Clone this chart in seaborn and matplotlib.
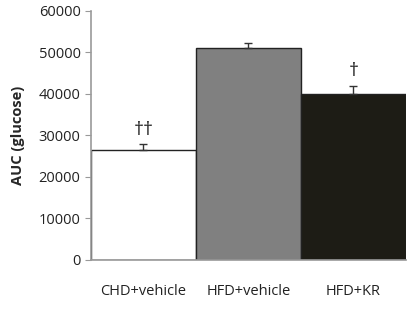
import matplotlib
matplotlib.use("Agg")
import matplotlib.pyplot as plt
import seaborn as sns
import pandas as pd

groups = ["CHD+vehicle", "HFD+vehicle", "HFD+KR"]
auc = [26500, 51000, 40000]
sem = [1400, 1400, 2000]
marks = ["††", "", "†"]
bar_colors = ["#ffffff", "#808080", "#1f1d13"]

sns.set_style("white")
plt.rcParams["font.family"] = ["Open Sans", "DejaVu Sans"]

df = pd.DataFrame({"group": groups, "auc": auc})

fig, ax = plt.subplots(figsize=(4.10, 3.14), dpi=100)
fig.subplots_adjust(left=0.222, right=0.99, bottom=0.172, top=0.965)

sns.barplot(data=df, x="group", y="auc", hue="group", palette=bar_colors,
            width=1.0, edgecolor="#222222", linewidth=1.0, legend=False, ax=ax)

# upper error bars only
ax.errorbar(range(len(groups)), auc, yerr=[[0] * len(sem), sem], fmt="none",
            ecolor="#333333", elinewidth=1.0, capsize=3, capthick=1.0)

for i, m in enumerate(marks):
    if m:
        ax.text(i, auc[i] + sem[i] + 1300, m, ha="center", va="bottom",
                fontsize=14, color="#222222")

ax.set_ylim(0, 60000)
ax.set_xlim(-0.5, 2.5)
ax.set_yticks(range(0, 60001, 10000))
ax.tick_params(axis="y", labelsize=10.5, left=True, length=4, color="#999999",
               labelcolor="#222222")
ax.tick_params(axis="x", labelsize=10.5, bottom=False, pad=14, labelcolor="#222222")
ax.set_xlabel("")
ax.set_ylabel("AUC (glucose)", fontsize=10.5, fontweight="bold", labelpad=10)

sns.despine(ax=ax)
for s in ["left", "bottom"]:
    ax.spines[s].set_color("#999999")
    ax.spines[s].set_linewidth(1.2)

fig.savefig("out.png", dpi=100)
